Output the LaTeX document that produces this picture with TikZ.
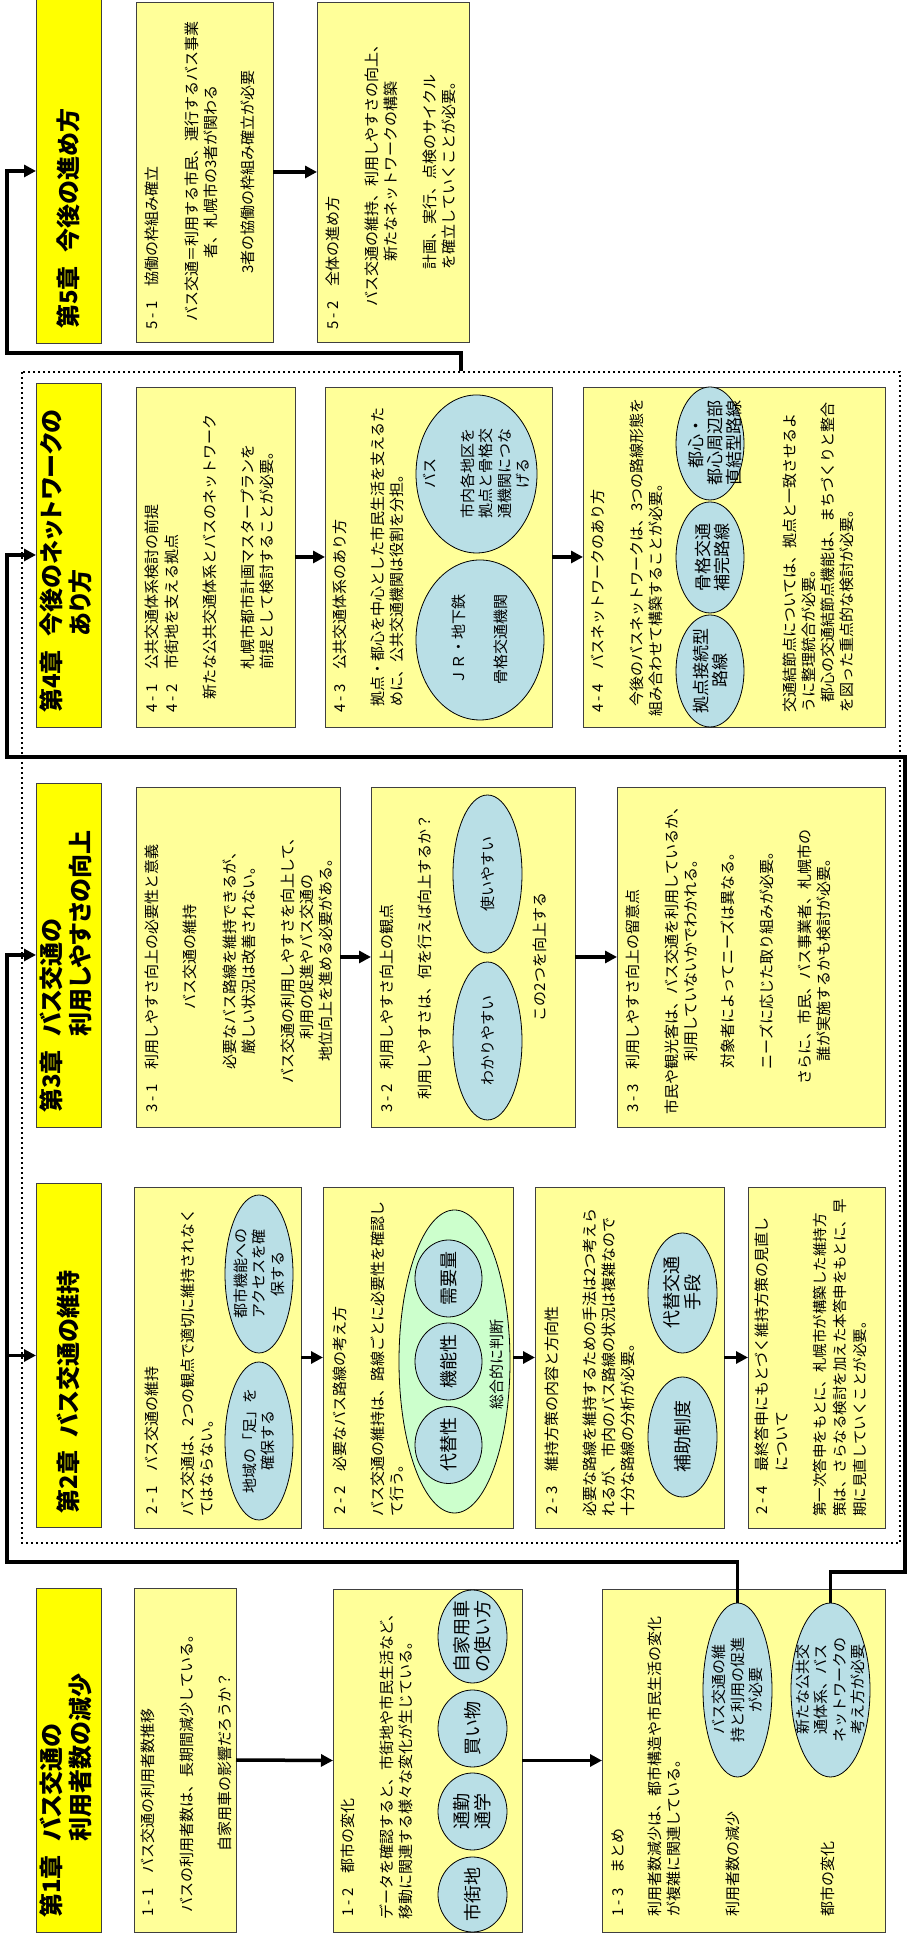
\documentclass[tikz,border=0pt]{standalone}
\usepackage{fontspec}
\setmainfont{Noto Sans CJK JP}
\newfontfamily\chapfont{Noto Sans CJK JP}[RawFeature=+palt]
\usetikzlibrary{arrows.meta,shapes.geometric}
\definecolor{chapfill}{HTML}{FFFF00}
\definecolor{panelfill}{HTML}{FFFF99}
\definecolor{bubblefill}{HTML}{B9DFE6}
\definecolor{judgefill}{HTML}{CCFFCC}
\definecolor{edge}{HTML}{404040}
\tikzset{
  every node/.style={text=black},
  chap/.style={draw=edge, fill=chapfill, line width=.9pt, outer sep=0pt,
    inner xsep=14pt, inner ysep=0pt, minimum width=344pt, minimum height=65pt,
    text width=316pt, align=left,
    font=\chapfont\fontsize{24}{28}\selectfont\bfseries},
  panel/.style={draw=edge, fill=panelfill, line width=.9pt, outer sep=0pt,
    inner sep=0pt, minimum width=340pt},
  bubble/.style={ellipse, draw=black, fill=bubblefill, line width=.8pt,
    inner sep=0pt, outer sep=0pt},
  judge/.style={bubble, fill=judgefill},
  sectitle/.style={anchor=west, inner sep=0pt, align=left,
    font=\fontsize{15}{20}\selectfont},
  note/.style={anchor=north, inner sep=0pt, align=center,
    font=\fontsize{15}{19}\selectfont},
  notel/.style={note, anchor=north west, align=left},
  btext/.style={inner sep=0pt, align=center, font=\fontsize{15}{18.5}\selectfont},
  bigtext/.style={btext, font=\fontsize{18}{21}\selectfont},
  midtext/.style={btext, font=\fontsize{17}{19}\selectfont},
  flow/.style={-{Triangle[length=12pt,width=12pt]}, line width=3.5pt},
  dotframe/.style={draw, line width=2.4pt, dash pattern=on 2.4pt off 2.6pt,
    inner sep=0pt}
}
\begin{document}
\begin{tikzpicture}[x=1pt, y=1pt, rotate=90, transform shape]
\useasboundingbox (0,0) rectangle (1937,-908);

% chapters 2 to 4 sit inside one dotted group
\node[dotframe, minimum width=1171pt, minimum height=878pt] (grp) at (979.5,-461) {};

% ---- chapter 1
\node[chap] (h1) at (177,-68.5)
  {第1章\hspace{14pt}\begin{tabular}[t]{@{}l@{}}バス交通の\\利用者数の減少\end{tabular}};

\node[panel, minimum width=344pt, minimum height=102pt] (b11) at (177,-185) {};
\node[sectitle] (t11) at (20,-148) {1 - 1\hspace{15pt}バス交通の利用者数推移};
\node[note] (n11a) at (167,-180) {バスの利用者数は、長期間減少している。};
\node[note] (n11b) at (175,-218) {自家用車の影響だろうか？};

\node[panel, minimum width=343pt, minimum height=189pt] (b12) at (176.5,-427.5) {};
\node[sectitle] (t12) at (20,-348) {1 - 2\hspace{15pt}都市の変化};
\node[notel] (n12) at (17,-380)
  {データを確認すると、市街地や市民生活など、\\移動に関連する様々な変化が生じている。};
\node[bubble, minimum width=75pt, minimum height=69pt] (c12a) at (42.5,-472.5) {};
\node[bubble, minimum width=77pt, minimum height=69pt] (c12b) at (125.5,-472.5) {};
\node[bubble, minimum width=77pt, minimum height=69pt] (c12c) at (208.5,-472.5) {};
\node[bubble, minimum width=93pt, minimum height=69pt] (c12d) at (300.5,-472.5) {};
\node[bigtext] (c12aT) at (c12a) {市街地};
\node[bigtext] (c12bT) at (c12b) {通勤\\通学};
\node[bigtext] (c12cT) at (c12c) {買い物};
\node[bigtext] (c12dT) at (c12d) {自家用車\\の使い方};

\node[panel, minimum width=343pt, minimum height=283pt] (b13) at (176.5,-743.5) {};
\node[sectitle] (t13) at (20,-618) {1 - 3\hspace{15pt}まとめ};
\node[notel] (n13a) at (20,-648)
  {利用者数減少は、都市構造や市民生活の変化\\が複雑に関連している。};
\node[sectitle] (n13b) at (20,-733) {利用者数の減少};
\node[sectitle] (n13c) at (20,-828) {都市の変化};
\node[bubble, minimum width=174pt, minimum height=69pt] (e13a) at (247,-737.5) {};
\node[bubble, minimum width=174pt, minimum height=79pt] (e13b) at (247,-830.5) {};
\node[btext] (e13aT) at (e13a) {バス交通の維\\持と利用の促進\\が必要};
\node[btext] (e13bT) at (e13b) {新たな公共交\\通体系、バス\\ネットワークの\\考え方が必要};

% ---- chapter 2
\node[chap] (h2) at (581.5,-68.5) {第2章\hspace{14pt}バス交通の維持};

\node[panel, minimum width=341pt, minimum height=167pt] (b21) at (579.5,-217.5) {};
\node[sectitle] (t21) at (422,-152) {2 - 1\hspace{15pt}バス交通の維持};
\node[notel] (n21) at (420,-181)
  {バス交通は、2つの観点で適切に維持されなく\\てはならない。};
\node[bubble, minimum width=158pt, minimum height=68pt] (e21a) at (663,-259) {};
\node[bubble, minimum width=158pt, minimum height=68pt] (e21b) at (496,-259) {};
\node[btext] (e21aT) at (e21a) {都市機能への\\アクセスを確\\保する};
\node[btext] (e21bT) at (e21b) {地域の「足」を\\確保する};

\node[panel, minimum width=341pt, minimum height=190pt] (b22) at (579.5,-418) {};
\node[sectitle] (t22) at (422,-340) {2 - 2\hspace{15pt}必要なバス路線の考え方};
\node[notel] (n22) at (420,-371)
  {バス交通の維持は、路線ごとに必要性を確認し\\て行う。};
\node[judge, minimum width=303pt, minimum height=111pt] (e22) at (575.5,-454.5) {};
\node[bubble, minimum width=77pt, minimum height=67pt] (c22a) at (658.5,-448.5) {};
\node[bubble, minimum width=77pt, minimum height=67pt] (c22b) at (575.5,-448.5) {};
\node[bubble, minimum width=77pt, minimum height=67pt] (c22c) at (492,-448.5) {};
\node[bigtext] (c22aT) at (c22a) {需要量};
\node[bigtext] (c22bT) at (c22b) {機能性};
\node[bigtext] (c22cT) at (c22c) {代替性};
\node[btext] (e22T) at (572,-497) {総合的に判断};

\node[panel, minimum width=341pt, minimum height=189pt] (b23) at (579.5,-629.5) {};
\node[sectitle] (t23) at (422,-552) {2 - 3\hspace{15pt}維持方策の内容と方向性};
\node[notel] (n23) at (420,-583)
  {必要な路線を維持するための手法は2つ考えら\\れるが、市内のバス路線の状況は複雑なので\\十分な路線の分析が必要。};
\node[bubble, minimum width=120pt, minimum height=69pt] (e23a) at (644,-682.5) {};
\node[bubble, minimum width=120pt, minimum height=69pt] (e23b) at (500,-682.5) {};
\node[bigtext] (e23aT) at (e23a) {代替交通\\手段};
\node[bigtext] (e23bT) at (e23b) {補助制度};

\node[panel, minimum width=341pt, minimum height=137pt] (b24) at (579.5,-816.5) {};
\node[sectitle] (t24) at (422,-773)
  {2 - 4\hspace{15pt}\begin{tabular}[t]{@{}l@{}}最終答申にもとづく維持方策の見直し\\について\end{tabular}};
\node[notel, font=\fontsize{14.5}{20}\selectfont] (n24) at (420,-813)
  {第一次答申をもとに、札幌市が構築した維持方\\策は、さらなる検討を加えた本答申をもとに、早\\期に見直していくことが必要。};

% ---- chapter 3
\node[chap] (h3) at (982,-68.5)
  {第3章\hspace{14pt}\begin{tabular}[t]{@{}l@{}}バス交通の\\利用しやすさの向上\end{tabular}};

\node[panel, minimum height=204pt] (b31) at (980,-238) {};
\node[sectitle] (t31) at (824,-152) {3 - 1\hspace{15pt}利用しやすさ向上の必要性と意義};
\node[note] (n31a) at (980,-183) {バス交通の維持};
\node[note] (n31b) at (980,-223) {必要なバス路線を維持できるが、\\厳しい状況は改善されない。};
\node[note] (n31c) at (980,-281)
  {バス交通の利用しやすさを向上して、\\利用の促進やバス交通の\\地位向上を進める必要がある。};

\node[panel, minimum height=204pt] (b32) at (980,-473) {};
\node[sectitle] (t32) at (824,-387) {3 - 2\hspace{15pt}利用しやすさ向上の観点};
\node[note] (n32a) at (980,-418) {利用しやすさは、何を行えば向上するか？};
\node[bubble, minimum width=158pt, minimum height=69pt] (e32a) at (1063,-487.5) {};
\node[bubble, minimum width=158pt, minimum height=69pt] (e32b) at (896,-487.5) {};
\node[btext] (e32aT) at (e32a) {使いやすい};
\node[btext] (e32bT) at (e32b) {わかりやすい};
\node[note] (n32b) at (980,-533) {この2つを向上する};

\node[panel, minimum height=268pt] (b33) at (980,-751) {};
\node[sectitle] (t33) at (824,-633) {3 - 3\hspace{15pt}利用しやすさ向上の留意点};
\node[note] (n33a) at (980,-665)
  {市民や観光客は、バス交通を利用しているか、\\利用していないかでわかれる。};
\node[note] (n33b) at (980,-721) {対象者によってニーズは異なる。};
\node[note] (n33c) at (980,-760) {ニーズに応じた取り組みが必要。};
\node[note] (n33d) at (980,-798)
  {さらに、市民、バス事業者、札幌市の\\誰が実施するかも検討が必要。};

% ---- chapter 4
\node[chap] (h4) at (1382,-68.5)
  {第4章\hspace{14pt}\begin{tabular}[t]{@{}l@{}}今後のネットワークの\\あり方\end{tabular}};

\node[panel, minimum height=159pt] (b41) at (1380,-215.5) {};
\node[sectitle, anchor=north west] (t41) at (1224,-145)
  {4 - 1\hspace{15pt}公共交通体系検討の前提\\4 - 2\hspace{15pt}市街地を支える拠点};
\node[note] (n41a) at (1380,-203) {新たな公共交通体系とバスのネットワーク};
\node[note] (n41b) at (1380,-241) {札幌市都市計画マスタープランを\\前提として検討することが必要。};

\node[panel, minimum height=227pt] (b43) at (1380,-438.5) {};
\node[sectitle] (t43) at (1224,-340) {4 - 3\hspace{15pt}公共交通体系のあり方};
\node[notel] (n43) at (1230,-371)
  {拠点・都心を中心とした市民生活を支えるた\\めに、公共交通機関は役割を分担。};
\node[bubble, minimum width=158pt, minimum height=121pt] (e43a) at (1463,-476.5) {};
\node[bubble, minimum width=160pt, minimum height=128pt] (e43b) at (1297,-480) {};
\node[btext] (e43aT) at (e43a) {バス\\[19pt]市内各地区を\\拠点と骨格交\\通機関につな\\げる};
\node[btext] (e43bT) at (e43b) {ＪＲ・地下鉄\\[23pt]骨格交通機関};

\node[panel, minimum height=302pt] (b44) at (1380,-734) {};
\node[sectitle] (t44) at (1224,-598) {4 - 4\hspace{15pt}バスネットワークのあり方};
\node[notel] (n44a) at (1220,-630)
  {\hspace*{10pt}今後のバスネットワークは、3つの路線形態を\\組み合わせて構築することが必要。};
\node[bubble, minimum width=113pt, minimum height=68pt] (e44a) at (1493.5,-710) {};
\node[bubble, minimum width=111pt, minimum height=68pt] (e44b) at (1379.5,-710) {};
\node[bubble, minimum width=112pt, minimum height=68pt] (e44c) at (1266,-710) {};
\node[midtext] (e44aT) at (1493.5,-715) {都心・\\都心周辺部\\直結型路線};
\node[midtext] (e44bT) at (1379.5,-713) {骨格交通\\補完路線};
\node[midtext] (e44cT) at (1266,-711) {拠点接続型\\路線};
\node[notel] (n44b) at (1224,-783)
  {交通結節点については、拠点と一致させるよ\\うに整理統合が必要。\\\hspace*{10pt}都心の交通結節点機能は、まちづくりと整合\\を図った重点的な検討が必要。};

% ---- chapter 5
\node[chap] (h5) at (1766,-68.5) {第5章\hspace{14pt}今後の進め方};

\node[panel, minimum height=137pt] (b51) at (1765,-204.5) {};
\node[sectitle] (t51) at (1607,-152) {5 - 1\hspace{15pt}協働の枠組み確立};
\node[note] (n51a) at (1765,-185)
  {バス交通＝利用する市民、運行するバス事業\\者、札幌市の3者が関わる};
\node[note] (n51b) at (1765,-241) {3者の協働の枠組み確立が必要};

\node[panel, minimum height=152pt] (b52) at (1765,-393) {};
\node[sectitle] (t52) at (1607,-333) {5 - 2\hspace{15pt}全体の進め方};
\node[note] (n52a) at (1765,-365)
  {バス交通の維持、利用しやすさの向上、\\新たなネットワークの構築};
\node[note] (n52b) at (1765,-423)
  {計画、実行、点検のサイクル\\を確立していくことが必要。};

% steps inside each chapter
\draw[flow] (b11.south) -- (b12.north);
\draw[flow] (b12.south) -- (b13.north);
\draw[flow] (b21.south) -- (b22.north);
\draw[flow] (b22.south) -- (b23.north);
\draw[flow] (b23.south) -- (b24.north);
\draw[flow] (b31.south) -- (b32.north);
\draw[flow] (b32.south) -- (b33.north);
\draw[flow] (b41.south) -- (b43.north);
\draw[flow] (b43.south) -- (b44.north);
\draw[flow] (b51.south) -- (b52.north);

% links from the chapter 1 summary to the later chapters
\coordinate (keepBend) at (375,-7);
\draw[flow] (e13a.east) -| (keepBend) -| (h3.north);
\draw[flow] (keepBend) -| (h2.north);

\coordinate (netBend) at (365,-905);
\coordinate (netTop) at (1180,-7);
\draw[flow] (e13b.east) -| (netBend) -| (netTop) -| (h4.north);

\coordinate (grpBend) at (1584,-7);
\draw[flow] (grp.east) -| (grpBend) -| (h5.north);

\end{tikzpicture}
\end{document}
